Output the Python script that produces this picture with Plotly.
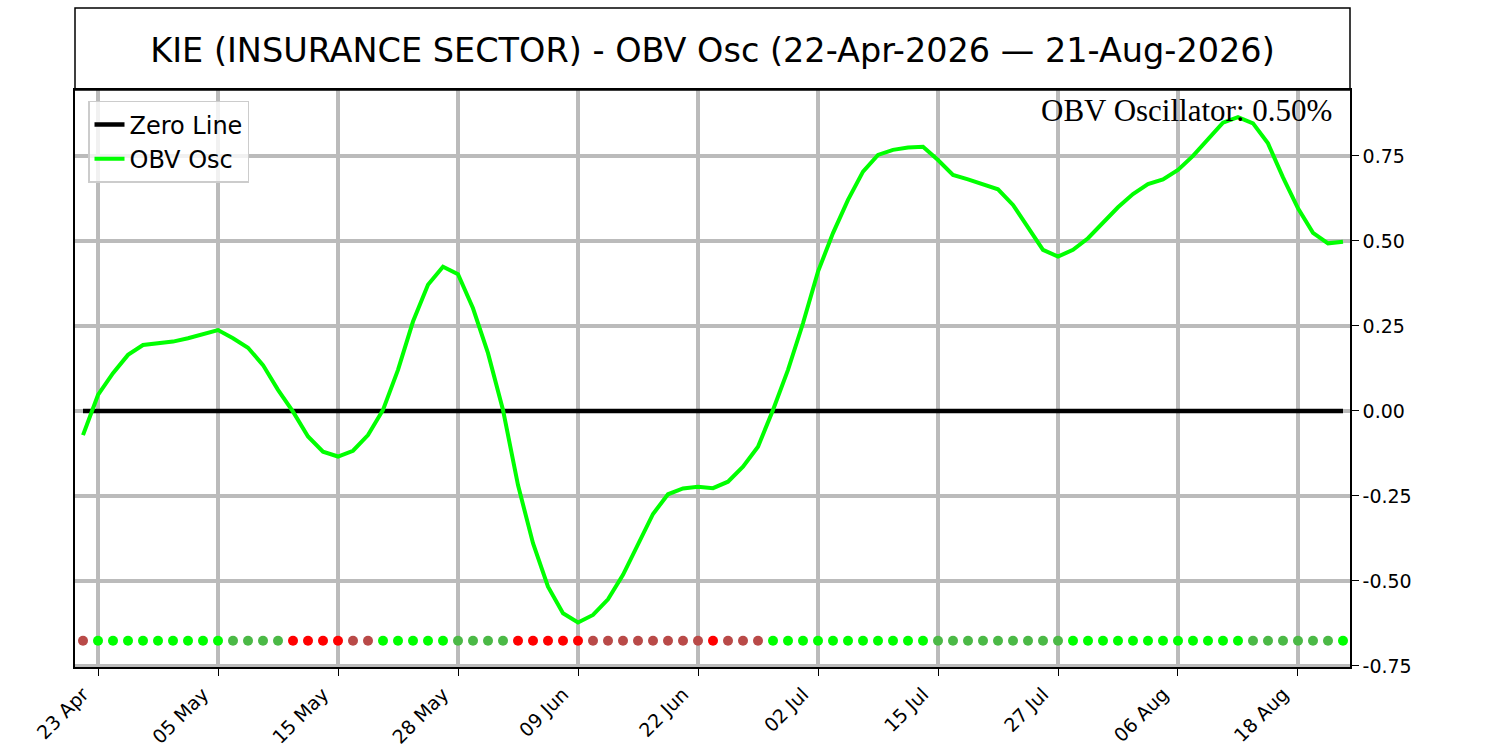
import pandas as pd
import plotly.graph_objects as go

# ---------------- data ----------------
holidays = ["2026-05-25", "2026-06-19", "2026-07-03"]
dates = [d.strftime("%Y-%m-%d") for d in pd.bdate_range("2026-04-22", "2026-08-21")
         if d.strftime("%Y-%m-%d") not in holidays]

obv_osc = [
    -0.071, 0.047, 0.111, 0.165, 0.194, 0.199, 0.204, 0.214, 0.226, 0.238,
    0.214, 0.186, 0.135, 0.062, -0.002, -0.075, -0.120, -0.134, -0.117, -0.071,
    0.003, 0.121, 0.263, 0.371, 0.424, 0.402, 0.302, 0.170, 0.003, -0.218,
    -0.389, -0.517, -0.595, -0.622, -0.600, -0.554, -0.482, -0.394, -0.303, -0.245,
    -0.228, -0.223, -0.227, -0.208, -0.164, -0.105, 0.003, 0.121, 0.258, 0.410,
    0.523, 0.621, 0.704, 0.753, 0.768, 0.775, 0.777, 0.738, 0.694, 0.681,
    0.667, 0.652, 0.606, 0.540, 0.474, 0.454, 0.474, 0.508, 0.552, 0.599,
    0.638, 0.667, 0.681, 0.709, 0.750, 0.799, 0.848, 0.864, 0.846, 0.787,
    0.687, 0.596, 0.524, 0.493, 0.498,
]

# signal state per day: PU = positive & rising, PD = positive & falling,
# ND = negative & falling, NU = negative & rising
signal_state = (
    ["NU"] + ["PU"] * 9 + ["PD"] * 4 + ["ND"] * 4 + ["NU"] * 2 + ["PU"] * 5
    + ["PD"] * 4 + ["ND"] * 5 + ["NU"] * 8 + ["ND"] + ["NU"] * 3 + ["PU"] * 11
    + ["PD"] * 9 + ["PU"] * 12 + ["PD"] * 6 + ["PU"]
)
signal_level = -0.676

zero_line = [0.0] * len(dates)

tick_dates = ["2026-04-23", "2026-05-05", "2026-05-15", "2026-05-28", "2026-06-09",
              "2026-06-22", "2026-07-02", "2026-07-15", "2026-07-27", "2026-08-06",
              "2026-08-18"]
tick_labels = [pd.Timestamp(d).strftime("%d %b") for d in tick_dates]

y_ticks = [-0.75, -0.5, -0.25, 0.0, 0.25, 0.5, 0.75]
y_tick_labels = [f"{v:.2f}" for v in y_ticks]

title_text = "KIE (INSURANCE SECTOR) - OBV Osc (22-Apr-2026 \u2014 21-Aug-2026)"
last_value_text = f"OBV Oscillator: {obv_osc[-1]:.2f}%"

# ---------------- styling ----------------
state_colors = {"PU": "#00ff00", "PD": "#4bb946", "ND": "#ff0000", "NU": "#b94a48"}
font_family = "DejaVu Sans"

fig = go.Figure()

fig.add_trace(go.Scatter(
    x=dates, y=zero_line, mode="lines", name="Zero Line",
    line=dict(color="black", width=4.5),
))
fig.add_trace(go.Scatter(
    x=dates, y=obv_osc, mode="lines", name="OBV Osc",
    line=dict(color="#00ff00", width=4),
))
fig.add_trace(go.Scatter(
    x=dates, y=[signal_level] * len(dates), mode="markers", showlegend=False,
    marker=dict(size=10, color=[state_colors[s] for s in signal_state],
                line=dict(width=0)),
))

L, R, T, B = 75, 150, 90, 83
plot_h = 750 - T - B

fig.update_layout(
    width=1500, height=750,
    margin=dict(l=L, r=R, t=T, b=B, autoexpand=False),
    paper_bgcolor="white", plot_bgcolor="white",
    font=dict(family=font_family, color="black", size=19),
    title=dict(text=title_text, x=0.5, xref="paper", xanchor="center",
               y=1 - 50 / 750, yref="container", yanchor="middle",
               font=dict(family=font_family, size=33.5, color="black")),
    showlegend=True,
    legend=dict(x=0.0102, y=0.981, xanchor="left", yanchor="top",
                bgcolor="rgba(255,255,255,0.8)", bordercolor="#cccccc",
                borderwidth=1.5, font=dict(family=font_family, size=24),
                itemwidth=30, tracegroupgap=0),
    shapes=[dict(type="rect", xref="paper", yref="paper", x0=0, x1=1,
                 y0=1, y1=1 + 82 / plot_h,
                 line=dict(color="black", width=1.5), fillcolor="rgba(0,0,0,0)")],
    annotations=[dict(text=last_value_text, xref="paper", yref="paper",
                      x=0.9875, y=(667 - 110) / plot_h, xanchor="right",
                      yanchor="middle", showarrow=False,
                      font=dict(family="Liberation Serif", size=31, color="black"))],
)

fig.update_xaxes(
    type="category", categoryorder="array", categoryarray=dates,
    range=[-0.533, len(dates) - 1 + 0.467], automargin=False,
    tickmode="array", tickvals=tick_dates, ticktext=tick_labels, tickangle=-45,
    ticklabelshift=-15,
    ticks="outside", ticklen=7, tickwidth=1.3, tickcolor="black",
    showgrid=True, gridcolor="#bbbbbb", gridwidth=3.5,
    showline=True, linecolor="black", linewidth=1.5, mirror=True,
    zeroline=False, tickfont=dict(size=19),
)
fig.update_yaxes(
    side="right", range=[-0.753, 0.944], automargin=False,
    tickmode="array", tickvals=y_ticks, ticktext=y_tick_labels,
    ticks="outside", ticklen=7, tickwidth=1.3, tickcolor="black",
    showgrid=True, gridcolor="#bbbbbb", gridwidth=3.5,
    showline=True, linecolor="black", linewidth=1.5, mirror=True,
    zeroline=False, tickfont=dict(size=19),
)

fig.write_html(
    "out.html",
    config={"displayModeBar": False},
    post_script="document.body.style.margin='0px';document.body.style.overflow='hidden';",
)
